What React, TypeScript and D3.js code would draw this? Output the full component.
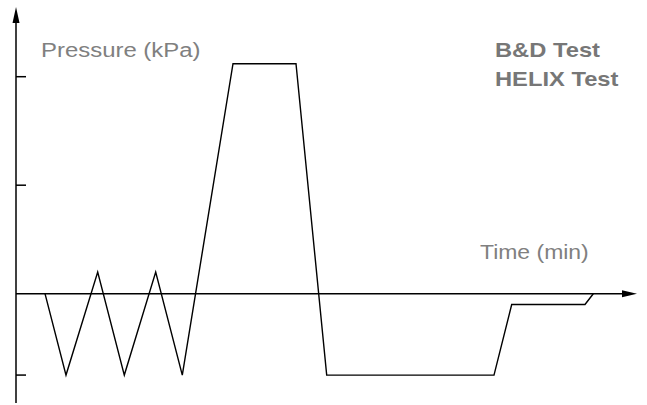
import React from "react";
import * as d3 from "d3";

const times = [2.9, 5.0, 8.17, 10.83, 13.97, 16.63, 21.7, 28.0, 31.07, 47.8, 49.57, 56.9, 57.73];
const pressures = [0, -0.75, 0.2, -0.75, 0.2, -0.75, 2.12, 2.12, -0.75, -0.75, -0.1, -0.1, 0];
const yTicks = [2, 1, -0.75];
const legendItems = ["B&D Test", "HELIX Test"];
const xLabel = "Time (min)";
const yLabel = "Pressure (kPa)";

const W = 647;
const H = 405;

export default function App() {
  const x = d3.scaleLinear().domain([0, 62]).range([16, 636]);
  const y = d3.scaleLinear().domain([-1, 2]).range([402.2, 76.7]);
  const pts: [number, number][] = times.map((t, i) => [t, pressures[i]]);
  const line = d3
    .line<[number, number]>()
    .x((d) => x(d[0]))
    .y((d) => y(d[1]));
  const x0 = x(0);
  const y0 = y(0);
  const xEnd = 637;
  const yTop = 7;
  return (
    <svg
      width={W}
      height={H}
      style={{ position: "absolute", left: 0, top: 0, background: "#fff" }}
    >
      {/* y axis */}
      <line x1={x0} x2={x0} y1={yTop + 10} y2={403} stroke="#000" strokeWidth={1.5} />
      <path d={`M${x0},${yTop} L${x0 - 3.5},${yTop + 16} L${x0 + 3.5},${yTop + 16} Z`} fill="#000" />
      {yTicks.map((t) => (
        <line key={t} x1={x0} x2={x0 + 10} y1={y(t)} y2={y(t)} stroke="#000" strokeWidth={1.5} />
      ))}
      {/* x axis */}
      <line x1={x0} x2={xEnd - 10} y1={y0} y2={y0} stroke="#000" strokeWidth={1.5} />
      <path d={`M${xEnd},${y0} L${xEnd - 15},${y0 - 3.5} L${xEnd - 15},${y0 + 3.5} Z`} fill="#000" />
      {/* data */}
      <path d={line(pts) || ""} fill="none" stroke="#000" strokeWidth={1.4} strokeLinejoin="miter" />
      {/* labels */}
      <g fontFamily="Liberation Sans, Arial, sans-serif">
        <text x={0} y={0} fontSize={21} fill="#808080" transform="translate(41,57) scale(1.14,1)">
          {yLabel}
        </text>
        <text x={0} y={0} fontSize={20.5} fill="#808080" transform="translate(480,259) scale(1.12,1)">
          {xLabel}
        </text>
        {legendItems.map((s, i) => (
          <text
            key={s}
            x={0}
            y={0}
            fontSize={21}
            fontWeight="bold"
            fill="#777"
            transform={`translate(495,${57 + i * 28.5}) scale(1.13,1)`}
          >
            {s}
          </text>
        ))}
      </g>
    </svg>
  );
}
